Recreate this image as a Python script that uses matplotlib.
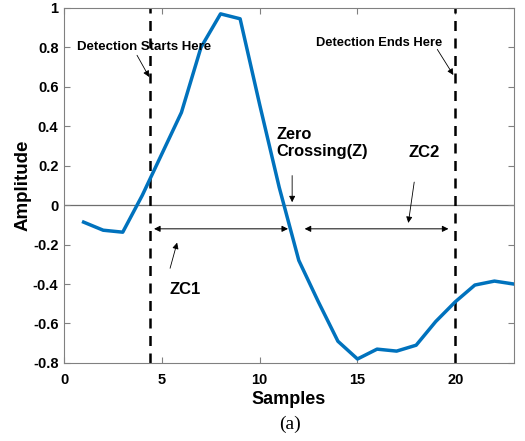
import matplotlib

matplotlib.use("Agg")
import matplotlib.pyplot as plt
from matplotlib.ticker import FuncFormatter

# signal samples
samples = list(range(1, 24))
amplitude = [-0.086, -0.127, -0.137, 0.05, 0.26, 0.47, 0.80, 0.97, 0.945, 0.51,
             0.09, -0.28, -0.49, -0.69, -0.78, -0.73, -0.74, -0.71, -0.59, -0.49,
             -0.405, -0.385, -0.40]

detect_start = 4.4
detect_end = 20.0
zc1_span = (4.6, 11.45)
zc2_span = (12.3, 19.65)
span_level = -0.12

x_ticks = [0, 5, 10, 15, 20]
y_ticks = [-0.8, -0.6, -0.4, -0.2, 0, 0.2, 0.4, 0.6, 0.8, 1]

plt.rcParams["font.family"] = ["Liberation Sans", "DejaVu Sans"]

fig = plt.figure(figsize=(5.25, 4.41), dpi=100)
ax = fig.add_axes([0.122, 0.177, 0.857, 0.805])

ax.plot(samples, amplitude, color="#0072BD", lw=2.5, zorder=3)
ax.axhline(0, color="#6e6e6e", lw=0.9, zorder=1)
for xv in (detect_start, detect_end):
    ax.axvline(xv, color="black", lw=1.8, ls=(0, (4, 3)), zorder=2)

arrow_kw = dict(arrowstyle="<|-|>", color="black", lw=0.7, mutation_scale=9, shrinkA=0, shrinkB=0)
for a, b in (zc1_span, zc2_span):
    ax.annotate("", xy=(b, span_level), xytext=(a, span_level), arrowprops=arrow_kw)

one_kw = dict(arrowstyle="-|>", color="black", lw=0.6, mutation_scale=9, shrinkA=0, shrinkB=0)
ax.text(0.65, 0.80, "Detection Starts Here", fontsize=9.5, fontweight="bold", va="center", ha="left")
ax.annotate("", xy=(4.35, 0.65), xytext=(3.73, 0.76), arrowprops=one_kw)
ax.text(12.9, 0.82, "Detection Ends Here", fontsize=9.3, fontweight="bold", va="center", ha="left")
ax.annotate("", xy=(19.9, 0.66), xytext=(19.08, 0.79), arrowprops=one_kw)
ax.text(10.85, 0.315, "Zero\nCrossing(Z)", fontsize=11.8, fontweight="bold", va="center",
        ha="left", linespacing=1.15)
ax.annotate("", xy=(11.66, 0.015), xytext=(11.66, 0.15), arrowprops=one_kw)
ax.text(18.4, 0.265, "ZC2", fontsize=12, fontweight="bold", va="center", ha="center")
ax.annotate("", xy=(17.6, -0.09), xytext=(17.9, 0.117), arrowprops=one_kw)
ax.text(6.2, -0.43, "ZC1", fontsize=12, fontweight="bold", va="center", ha="center")
ax.annotate("", xy=(5.78, -0.19), xytext=(5.42, -0.32), arrowprops=one_kw)

ax.set_xlim(0, 23)
ax.set_ylim(-0.8, 1)
ax.set_xticks(x_ticks)
ax.set_yticks(y_ticks)
ax.yaxis.set_major_formatter(FuncFormatter(lambda v, p: f"{v:g}"))
ax.tick_params(direction="in", top=True, right=True, length=4, color="#808080",
               labelsize=10.5, pad=4)
ax.tick_params(axis="x", pad=7)
for lab in ax.get_xticklabels() + ax.get_yticklabels():
    lab.set_fontweight("bold")
for sp in ax.spines.values():
    sp.set_color("#808080")
    sp.set_linewidth(0.8)

ax.set_xlabel("Samples", fontsize=13, fontweight="bold", labelpad=3)
ax.set_ylabel("Amplitude", fontsize=13.5, fontweight="bold", labelpad=1)
fig.text(0.552, 0.038, "(a)", fontsize=14, family=["Liberation Serif", "DejaVu Serif"],
         ha="center", va="center")

fig.savefig("out.png", dpi=100)
